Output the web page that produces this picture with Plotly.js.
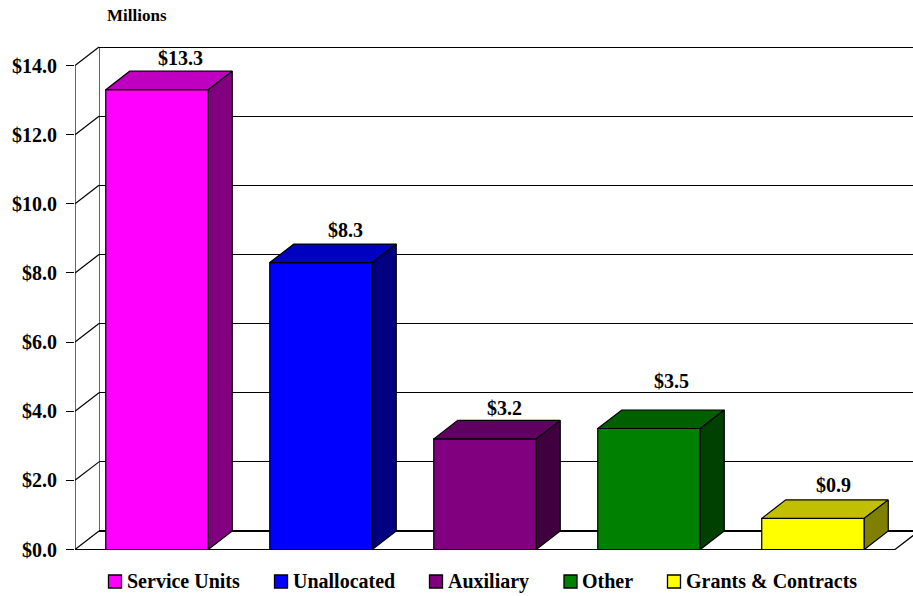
<!DOCTYPE html>
<html>
<head>
<meta charset="utf-8">
<script src="https://cdn.plot.ly/plotly-3.0.1.min.js"></script>
<style>html,body{margin:0;padding:0;background:#fff}</style>
</head>
<body>
<div id="chart" style="width:913px;height:596px"></div>
<script>
// Funding by source, in millions of dollars
const categories = ["Service Units", "Unallocated", "Auxiliary", "Other", "Grants & Contracts"];
const values = [13.3, 8.3, 3.2, 3.5, 0.9];
const tickValues = [0, 2, 4, 6, 8, 10, 12, 14];
const tickLabels = ["$0.0", "$2.0", "$4.0", "$6.0", "$8.0", "$10.0", "$12.0", "$14.0"];

// Face colours of each box
const frontColors = ["#FF00FF", "#0000FF", "#800080", "#008000", "#FFFF00"];
const topColors = ["#C000C0", "#0000C0", "#600060", "#006000", "#C0C000"];
const sideColors = ["#800080", "#000080", "#400040", "#004000", "#808000"];

// Nudges (px) of the value labels from the centre of each box's back edge
const labelNudgeX = [-1, 0, -5, -2, -4];
const labelRise = [13, 14, 12, 29, 15];

// Legend placement in page pixels
const legendSwatchLeft = [108.5, 274.5, 429.5, 564, 667.5];

// Page geometry of the plot
const W = 913, H = 596, ML = 75, MT = 45, MB = 46;
const plotW = W - ML, plotH = H - MT - MB, plotBottom = H - MB;
const pxPerSlot = 164, pxPerUnit = 34.57;
const depthX = 24 / pxPerSlot, depthY = 18.5 / pxPerUnit;
const barWidth = 0.625;
const xLow = -0.5, xHigh = xLow + plotW / pxPerSlot;
const yLow = -0.5 / pxPerUnit, yHigh = yLow + plotH / pxPerUnit;
const paperX = px => (px - ML) / plotW;
const paperY = py => (plotBottom - py) / plotH;

const edge = {color: "#000", width: 1.2};
const serif = "'Liberation Serif', 'Times New Roman', serif";
const traces = [];

// Vertical back edge of the left wall, drawn on the wall's own axes
traces.push({
  type: "scatter", mode: "lines", x: [0, 0], y: [0, 14], line: edge, cliponaxis: false,
  xaxis: "x", yaxis: "y", showlegend: false, hoverinfo: "skip"
});

// Left wall: front edge, slanted tick connectors and the floor's front edge
const frameX = [-0.5, -0.5, null, -0.5, 4.5, 4.5 + depthX];
const frameY = [0, 14, null, 0, 0, depthY];
tickValues.forEach(t => {
  frameX.push(null, -0.5, -0.5 + depthX);
  frameY.push(null, t, t + depthY);
});
traces.push({
  type: "scatter", mode: "lines", x: frameX, y: frameY, line: edge, connectgaps: false,
  xaxis: "x2", yaxis: "y2", showlegend: false, hoverinfo: "skip"
});

// Front faces
categories.forEach((name, i) => {
  traces.push({
    type: "bar", name, x: [i], y: [values[i]], width: barWidth, xaxis: "x2", yaxis: "y2",
    marker: {color: frontColors[i], line: edge}, showlegend: false
  });
});

// Top and side faces, projected from each value
categories.forEach((name, i) => {
  const l = i - barWidth / 2, r = i + barWidth / 2, v = values[i];
  traces.push({
    type: "scatter", mode: "lines", fill: "toself", fillcolor: topColors[i], line: edge,
    x: [l, r, r + depthX, l + depthX, l], y: [v, v, v + depthY, v + depthY, v],
    xaxis: "x2", yaxis: "y2", showlegend: false, hoverinfo: "skip"
  });
  traces.push({
    type: "scatter", mode: "lines", fill: "toself", fillcolor: sideColors[i], line: edge,
    x: [r, r + depthX, r + depthX, r, r], y: [0, depthY, v + depthY, v, 0],
    xaxis: "x2", yaxis: "y2", showlegend: false, hoverinfo: "skip"
  });
});

const annotations = values.map((v, i) => ({
  x: i + depthX, y: v + depthY, xref: "x2", yref: "y2",
  text: "<b>$" + v.toFixed(1) + "</b>", showarrow: false, xanchor: "center", yanchor: "middle",
  xshift: labelNudgeX[i], yshift: labelRise[i],
  font: {family: serif, size: 20, color: "#000"}
}));
annotations.push({
  x: paperX(137), y: paperY(16), xref: "paper", yref: "paper", text: "<b>Millions</b>",
  showarrow: false, xanchor: "center", yanchor: "middle",
  font: {family: serif, size: 17, color: "#000"}
});

// Legend row
const shapes = [];
categories.forEach((name, i) => {
  const left = legendSwatchLeft[i];
  shapes.push({
    type: "rect", xref: "paper", yref: "paper",
    x0: paperX(left), x1: paperX(left + 13), y0: paperY(588), y1: paperY(575),
    fillcolor: frontColors[i], line: {color: "#000", width: 1.3}
  });
  annotations.push({
    x: paperX(left + 16), y: paperY(581), xref: "paper", yref: "paper",
    text: "<b>" + name.replace("&", "&amp;") + "</b>", showarrow: false, xanchor: "left", yanchor: "middle",
    font: {family: serif, size: 20, color: "#000"}
  });
});

const layout = {
  width: W, height: H,
  margin: {l: ML, r: 0, t: MT, b: MB, pad: 0},
  paper_bgcolor: "#fff", plot_bgcolor: "rgba(0,0,0,0)",
  showlegend: false, hovermode: false, barmode: "overlay",
  // Back wall
  xaxis: {domain: [paperX(99), 1], range: [0, 1], showgrid: false, zeroline: false, showticklabels: false, ticks: "", fixedrange: true},
  yaxis: {
    domain: [paperY(531), paperY(45)], range: [0, 14 + 2 / pxPerUnit], tickvals: tickValues, showticklabels: false, ticks: "",
    showgrid: true, gridcolor: "#000", gridwidth: 1,
    zeroline: true, zerolinecolor: "#000", zerolinewidth: 2,
    showline: false, fixedrange: true
  },
  // Front plane with the value scale
  xaxis2: {domain: [0, 1], range: [xLow, xHigh], anchor: "y2", showgrid: false, zeroline: false, showticklabels: false, ticks: "", fixedrange: true},
  yaxis2: {
    domain: [0, 1], range: [yLow, yHigh], anchor: "x2", tickmode: "array", tickvals: tickValues, ticktext: tickLabels,
    ticks: "outside", ticklen: 8, tickwidth: 1, tickcolor: "#000", showgrid: false, zeroline: false, showline: false,
    ticklabelstandoff: 5,
    tickfont: {family: serif, size: 20, color: "#000", weight: "bold"}, fixedrange: true
  },
  annotations, shapes
};

Plotly.newPlot("chart", traces, layout, {displayModeBar: false, staticPlot: true});
</script>
</body>
</html>
